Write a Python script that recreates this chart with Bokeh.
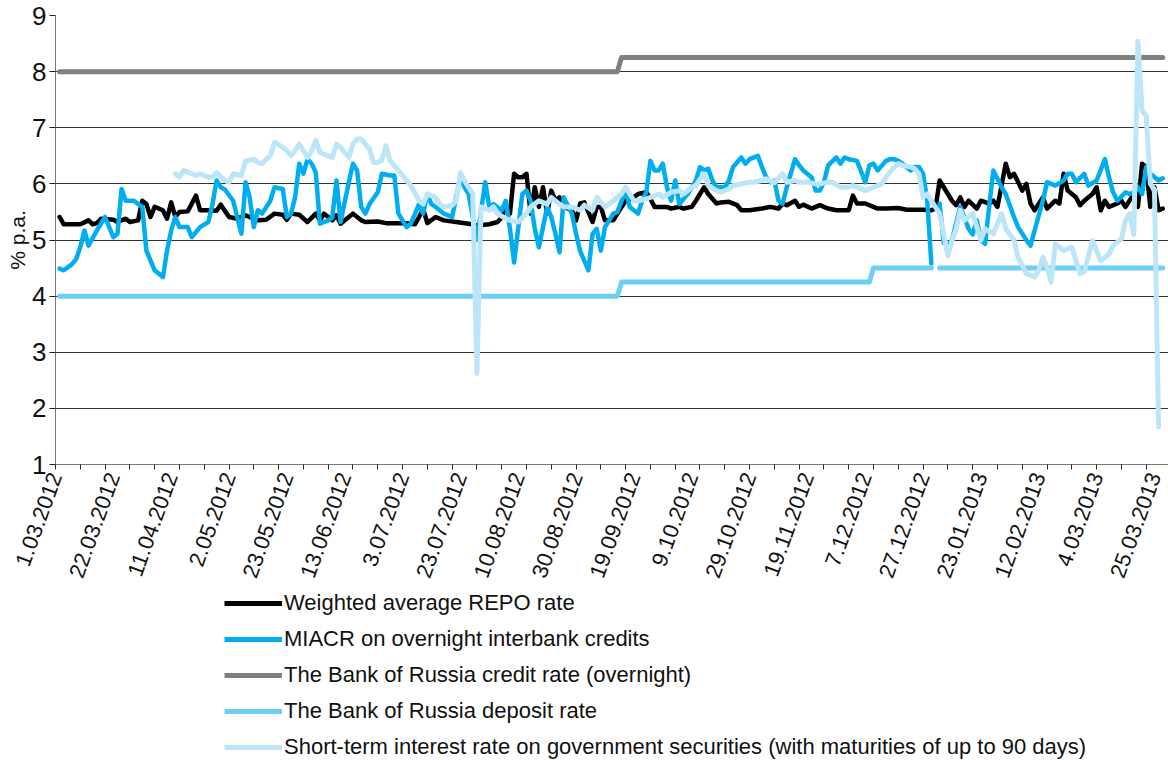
import math
from bokeh.plotting import figure
from bokeh.layouts import column
from bokeh.models import FixedTicker, Range1d, Legend, LegendItem
from bokeh.embed import file_html
from bokeh.resources import INLINE

NaN = float("nan")

# x axis: trading-day index (0 = 1.03.2012), a label every 14 trading days
tick_labels = ["1.03.2012", "22.03.2012", "11.04.2012", "2.05.2012", "23.05.2012",
               "13.06.2012", "3.07.2012", "23.07.2012", "10.08.2012", "30.08.2012",
               "19.09.2012", "9.10.2012", "29.10.2012", "19.11.2012", "7.12.2012",
               "27.12.2012", "23.01.2013", "12.02.2013", "4.03.2013", "25.03.2013"]
label_every = 14
tick_every = 6
last_day = 268

# (trading day, % p.a.)
repo_points = [(1,5.41),(2,5.28),(4,5.28),(6,5.28),(8,5.35),(9,5.28),(10,5.30),(11,5.38),(14,5.36),(15,5.32),
 (17,5.38),(18,5.32),(20,5.35),(21,5.70),(22,5.64),(23,5.41),(24,5.59),(26,5.53),(27,5.38),(28,5.67),
 (29,5.41),(30,5.50),(32,5.51),(34,5.79),(35,5.53),(37,5.53),(39,5.52),(40,5.63),(42,5.41),(44,5.38),
 (46,5.44),(48,5.38),(49,5.35),(51,5.36),(53,5.47),(55,5.45),(56,5.36),(57,5.47),(59,5.45),(61,5.32),
 (63,5.47),(64,5.35),(65,5.47),(67,5.35),(68,5.44),(69,5.29),(71,5.41),(72,5.47),(74,5.35),(75,5.32),
 (78,5.33),(80,5.30),(82,5.30),(85,5.30),(87,5.28),(88,5.41),(89,5.55),(90,5.30),(92,5.41),(94,5.35),
 (97,5.32),(100,5.29),(102,5.26),(105,5.28),(107,5.32),(108,5.40),(109,5.59),(110,5.47),(111,6.18),(112,6.12),
 (113,6.12),(114,6.18),(115,5.47),(116,5.94),(117,5.59),(118,5.94),(119,5.47),(120,5.88),(121,5.70),(122,5.76),
 (123,5.59),(125,5.53),(126,5.35),(127,5.65),(128,5.67),(130,5.32),(131,5.59),(132,5.59),(133,5.35),(135,5.35),
 (136,5.47),(138,5.70),(140,5.76),(141,5.82),(143,5.85),(144,5.73),(145,5.59),(148,5.59),(149,5.56),(151,5.59),
 (152,5.56),(154,5.59),(155,5.70),(157,5.94),(158,5.82),(160,5.65),(161,5.67),(163,5.68),(165,5.62),(166,5.53),
 (168,5.53),(171,5.56),(173,5.59),(175,5.56),(176,5.65),(177,5.62),(179,5.70),(180,5.59),(181,5.63),(183,5.56),
 (185,5.62),(187,5.56),(189,5.53),(192,5.53),(193,5.79),(194,5.65),(196,5.65),(199,5.56),(201,5.56),(204,5.57),
 (206,5.54),(210,5.54),(212,5.53),(213,5.56),(214,6.06),(215,5.94),(217,5.70),(218,5.62),(219,5.76),(220,5.59),
 (221,5.70),(223,5.56),(224,5.70),(226,5.65),(227,5.70),(228,5.59),(230,6.36),(231,6.12),(232,6.18),(234,5.88),
 (235,6.00),(236,5.65),(237,5.53),(239,5.76),(240,5.56),(242,5.70),(243,5.65),(244,6.18),(245,5.88),(247,5.76),
 (248,5.62),(249,5.70),(251,5.82),(252,5.94),(253,5.53),(254,5.70),(255,5.59),(257,5.65),(258,5.70),(259,5.59),
 (261,5.82),(262,5.59),(263,6.36),(264,6.30),(265,5.59),(266,5.94),(267,5.53),(268,5.56)]

miacr_points = [(1,4.49),(2,4.46),(4,4.57),(5,4.66),(6,4.87),(7,5.17),(8,4.90),(10,5.17),(12,5.41),(14,5.05),
 (15,5.11),(16,5.91),(17,5.70),(19,5.70),(20,5.64),(21,5.59),(22,4.81),(24,4.46),(26,4.34),(27,4.81),
 (28,5.17),(29,5.41),(30,5.23),(32,5.23),(33,5.05),(35,5.23),(37,5.32),(38,5.64),(39,6.06),(40,5.94),
 (41,5.90),(43,5.70),(45,5.11),(46,6.03),(47,5.76),(48,5.23),(49,5.53),(50,5.47),(52,5.70),(53,5.94),
 (55,5.91),(56,5.41),(57,5.47),(58,5.76),(59,6.36),(60,6.18),(61,6.44),(62,6.36),(63,6.20),(64,5.29),
 (66,5.35),(67,5.40),(68,6.06),(69,5.32),(71,6.03),(72,6.36),(73,6.24),(74,5.59),(75,5.47),(76,5.64),
 (78,5.85),(79,6.18),(81,6.15),(82,6.15),(83,5.47),(85,5.23),(86,5.29),(88,5.64),(89,5.47),(90,5.82),
 (91,5.64),(92,5.59),(94,5.47),(96,5.41),(98,6.12),(99,5.94),(100,5.82),(102,5.00),(104,6.03),(105,5.59),
 (106,5.64),(108,5.53),(109,5.70),(110,5.20),(111,4.60),(113,5.82),(114,5.88),(115,5.70),(116,5.20),(117,4.87),
 (119,5.59),(120,5.41),(121,5.11),(122,4.78),(123,5.76),(125,5.47),(126,5.11),(127,4.80),(129,4.46),(130,5.11),
 (131,5.20),(132,4.81),(133,5.23),(135,5.47),(136,5.50),(138,5.88),(139,5.59),(141,5.47),(142,5.70),(143,5.85),
 (144,6.41),(145,6.24),(146,6.24),(147,6.36),(148,5.94),(149,5.70),(150,6.06),(151,5.64),(153,5.82),(155,6.06),
 (156,6.30),(157,6.24),(158,6.27),(159,6.06),(160,5.94),(162,5.94),(163,6.06),(164,6.30),(166,6.47),(167,6.36),
 (168,6.44),(170,6.50),(171,6.30),(172,6.12),(173,6.03),(174,6.06),(175,5.70),(176,5.65),(177,5.94),(179,6.44),
 (180,6.33),(181,6.24),(183,6.12),(184,5.88),(185,5.88),(186,6.03),(187,6.33),(189,6.47),(190,6.36),(191,6.47),
 (192,6.44),(194,6.41),(196,6.03),(197,6.33),(198,6.36),(199,6.24),(201,6.41),(202,6.44),(203,6.44),(204,6.41),
 (205,6.36),(207,6.24),(208,6.30),(209,6.30),(210,6.18),(211,5.70),(212,4.58),(213,NaN),(214,5.65),(215,4.95),
 (216,4.90),(217,5.00),(218,5.30),(219,5.59),(220,5.40),(221,5.20),(222,5.10),(223,5.35),(224,5.00),(225,4.93),
 (226,5.60),(227,6.24),(229,5.94),(230,5.82),(232,5.41),(233,5.23),(235,5.00),(236,4.90),(237,5.17),(239,5.70),
 (240,6.03),(242,5.97),(244,6.06),(245,6.18),(246,6.18),(247,6.03),(249,6.18),(250,5.97),(252,6.06),(254,6.44),
 (255,6.12),(256,5.85),(257,5.70),(259,5.85),(260,5.82),(261,5.85),(262,5.94),(263,5.82),(264,6.30),(265,6.18),
 (267,6.06),(268,6.10)]

credit_points = [(1,8.0),(136,8.0),(137,8.25),(268,8.25)]

deposit_points = [(1,4.0),(136,4.0),(137,4.25),(197,4.25),(198,4.5),(212,4.5),(213,NaN),(214,4.5),(268,4.5)]

gov_points = [(29,6.18),(30,6.12),(31,6.24),(33,6.18),(34,6.15),(35,6.18),(37,6.12),(38,6.12),(39,6.20),(41,6.06),
 (42,6.03),(43,6.18),(45,6.15),(46,6.41),(48,6.44),(49,6.38),(50,6.36),(51,6.44),(52,6.50),(53,6.74),
 (55,6.65),(56,6.59),(57,6.50),(58,6.59),(59,6.71),(61,6.47),(62,6.59),(63,6.77),(64,6.56),(65,6.53),
 (67,6.47),(68,6.71),(69,6.65),(71,6.47),(72,6.71),(73,6.80),(74,6.80),(76,6.62),(77,6.38),(78,6.38),
 (79,6.42),(80,6.68),(81,6.41),(83,6.24),(85,6.06),(86,5.97),(88,5.70),(89,5.64),(90,5.82),(92,5.76),
 (93,5.64),(94,5.59),(96,5.62),(97,5.70),(98,6.20),(99,6.06),(100,5.94),(101,5.82),(102,2.62),(103,5.59),
 (105,5.53),(106,5.59),(107,5.47),(109,5.38),(110,5.35),(112,5.32),(114,5.47),(115,5.59),(117,5.70),(119,5.64),
 (120,5.76),(122,5.64),(123,5.59),(125,5.59),(127,5.53),(128,5.62),(130,5.53),(131,5.76),(133,5.59),(135,5.70),
 (136,5.76),(137,5.82),(138,5.94),(140,5.70),(141,5.70),(143,5.73),(144,5.76),(146,5.82),(147,5.76),(149,5.85),
 (151,5.88),(152,5.82),(154,5.94),(155,5.97),(157,6.18),(158,5.97),(160,5.88),(161,5.85),(163,5.91),(164,5.97),
 (166,6.00),(168,6.03),(169,6.03),(171,6.06),(172,6.09),(174,6.02),(176,6.18),(177,6.03),(179,6.06),(180,6.03),
 (182,6.03),(184,6.00),(185,6.00),(187,6.03),(188,6.03),(190,5.94),(192,5.94),(193,5.97),(195,5.91),(196,5.88),
 (198,5.94),(200,6.00),(201,6.12),(203,6.30),(204,6.36),(205,6.33),(207,6.30),(208,6.27),(209,6.18),(210,5.76),
 (211,5.82),(212,5.70),(214,5.47),(216,4.72),(217,4.99),(218,5.20),(219,5.53),(220,5.35),(222,5.47),(223,5.23),
 (224,5.00),(225,5.20),(227,5.11),(229,5.47),(230,5.20),(232,5.00),(233,4.69),(235,4.40),(237,4.34),(238,4.46),
 (239,4.69),(240,4.51),(241,4.25),(242,4.93),(244,4.81),(246,4.87),(248,4.40),(249,4.43),(251,4.99),(252,4.81),
 (253,4.63),(255,4.75),(256,4.90),(258,5.02),(259,5.35),(260,5.47),(261,5.10),(262,8.54),(263,7.30),(264,7.22),
 (265,6.00),(266,5.90),(267,1.67)]

series = [
    ("Weighted average REPO rate", repo_points, "#000000", 4.5),
    ("MIACR on overnight interbank credits", miacr_points, "#00AEEF", 4.5),
    ("The Bank of Russia credit rate (overnight)", credit_points, "#808080", 5),
    ("The Bank of Russia deposit rate", deposit_points, "#6DCFF6", 5),
    ("Short-term interest rate on government securities (with maturities of up to 90 days)", gov_points, "#BDE5F8", 5),
]

FONT = "Liberation Sans"

p = figure(width=1168, height=590, x_range=Range1d(0, 269.4), y_range=Range1d(1, 9),
           output_backend="svg", toolbar_location=None,
           min_border_left=55, min_border_right=0, min_border_top=15, min_border_bottom=126)
p.outline_line_color = None
p.background_fill_color = "white"
p.border_fill_color = "white"

# x axis
label_pos = [k * label_every for k in range(len(tick_labels))]
p.xaxis.ticker = FixedTicker(ticks=label_pos, minor_ticks=list(range(0, last_day + 1, tick_every)))
p.xaxis.major_label_overrides = {pos: lab for pos, lab in zip(label_pos, tick_labels)}
p.xaxis.major_tick_line_color = None
p.xaxis.minor_tick_in = 0
p.xaxis.minor_tick_out = 5
p.xaxis.minor_tick_line_color = "#222222"
p.xaxis.axis_line_color = "#777777"
p.xaxis.major_label_orientation = math.radians(70)
p.xaxis.major_label_text_font = FONT
p.xaxis.major_label_text_font_size = "22px"
p.xaxis.major_label_text_color = "#111111"
p.xaxis.major_label_standoff = 3

# y axis
yt = list(range(1, 10))
p.yaxis.ticker = FixedTicker(ticks=yt)
p.yaxis.minor_tick_line_color = None
p.yaxis.major_tick_in = 0
p.yaxis.major_tick_out = 6
p.yaxis.major_tick_line_color = "#222222"
p.yaxis.axis_line_color = "#777777"
p.yaxis.major_label_text_font = FONT
p.yaxis.major_label_text_font_size = "26px"
p.yaxis.major_label_text_color = "#111111"
p.yaxis.major_label_standoff = 3
p.yaxis.axis_label = "% p.a."
p.yaxis.axis_label_text_font = FONT
p.yaxis.axis_label_text_font_style = "normal"
p.yaxis.axis_label_text_font_size = "21px"
p.yaxis.axis_label_text_color = "#111111"
p.yaxis.axis_label_standoff = 0

p.xgrid.visible = False
p.ygrid.ticker = FixedTicker(ticks=yt)
p.ygrid.grid_line_color = "#333333"
p.ygrid.grid_line_width = 1

for name, pts, color, w in series:
    xs = [d for d, v in pts]
    ys = [v for d, v in pts]
    p.line(xs, ys, line_color=color, line_width=w, line_join="round", line_cap="round")

# legend strip below the chart
lg = figure(width=1168, height=170, x_range=Range1d(0, 1168), y_range=Range1d(0, 170),
            output_backend="svg", toolbar_location=None, x_axis_type=None, y_axis_type=None,
            min_border_left=0, min_border_right=0, min_border_top=0, min_border_bottom=0)
lg.outline_line_color = None
lg.xgrid.visible = False
lg.ygrid.visible = False
items = []
for name, pts, color, w in series:
    r = lg.line([NaN, NaN], [NaN, NaN], line_color=color, line_width=5)
    items.append(LegendItem(label=name, renderers=[r]))

legend = Legend(items=items, location=(169, 0), orientation="vertical",
                glyph_width=58, glyph_height=26, label_standoff=2, spacing=10,
                padding=0, margin=0, border_line_color=None, background_fill_alpha=0,
                label_text_font=FONT, label_text_font_size="22px",
                label_text_color="#111111", label_height=26)
lg.add_layout(legend, "center")

open("out.html", "w").write(file_html(column(p, lg, spacing=0), INLINE))
